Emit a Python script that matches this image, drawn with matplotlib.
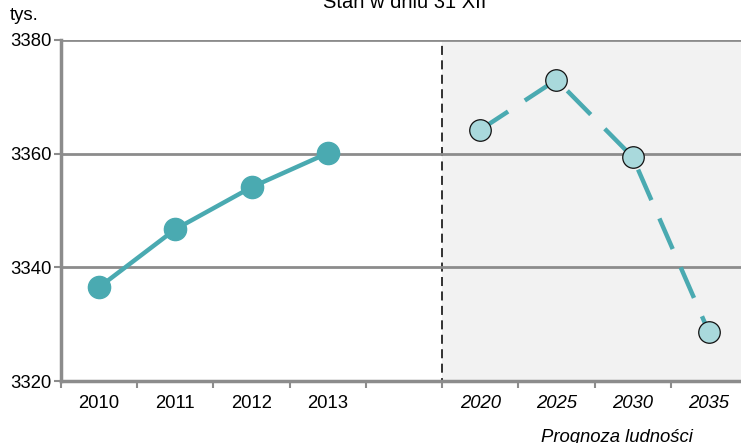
import matplotlib.pyplot as plt
from matplotlib.patches import Rectangle

plt.rcParams['font.family'] = ['Liberation Sans', 'DejaVu Sans']

# data (thousands of people, as of 31 Dec)
years_hist = ["2010", "2011", "2012", "2013"]
pop_hist = [3336.5, 3346.7, 3354.1, 3360.1]
years_fore = ["2020", "2025", "2030", "2035"]
pop_fore = [3364.2, 3373.0, 3359.4, 3328.6]
y_ticks = [3320, 3340, 3360, 3380]

teal = "#4aaab1"
grid_grey = "#8c8c8c"
fs = 13.3

fig = plt.figure(figsize=(7.41, 4.43), dpi=100)
ax = fig.add_axes([61 / 741, 1 - 381 / 443, 686 / 741, 341 / 443])

x_hist = list(range(len(years_hist)))
x_fore = [len(years_hist) + 1 + i for i in range(len(years_fore))]
n_cat = len(years_hist) + 1 + len(years_fore)

# shaded forecast area
ax.add_patch(Rectangle((len(years_hist) + 0.5, y_ticks[0]), n_cat, y_ticks[-1] - y_ticks[0],
                       facecolor="#f2f2f2", edgecolor="#222222", linestyle=(0, (5, 3)),
                       linewidth=1.3, zorder=0))

ax.plot(x_hist, pop_hist, color=teal, linewidth=3.2, marker="o", markersize=16,
        markerfacecolor=teal, markeredgecolor=teal, zorder=3)
ax.plot(x_fore, pop_fore, color=teal, linewidth=3.2, dashes=(7.5, 4.5), zorder=3)
ax.plot(x_fore, pop_fore, linestyle="none", marker="o", markersize=15.5,
        markerfacecolor="#a9d9dc", markeredgecolor="#111111", markeredgewidth=0.9, zorder=4)

ax.set_xlim(-0.5, n_cat - 0.5)
ax.set_ylim(y_ticks[0], y_ticks[-1])
ax.set_yticks(y_ticks)
ax.yaxis.grid(True, color=grid_grey, linewidth=2)
for g in ax.get_ygridlines():
    g.set_zorder(1)

ax.set_xticks(x_hist + x_fore)
ax.set_xticklabels(years_hist + years_fore)
for lbl in ax.get_xticklabels()[len(years_hist):]:
    lbl.set_style("italic")
ax.set_xticks([i + 0.5 for i in range(-1, n_cat)], minor=True)
ax.tick_params(axis="x", which="major", length=0, pad=10, labelsize=fs)
ax.tick_params(axis="x", which="minor", length=5, width=1.5, color=grid_grey, direction="out")
ax.tick_params(axis="y", length=5, width=1.5, color=grid_grey, labelsize=fs, pad=2)

for s in ["top", "right"]:
    ax.spines[s].set_visible(False)
for s in ["left", "bottom"]:
    ax.spines[s].set_color(grid_grey)
    ax.spines[s].set_linewidth(2.5)

fig.text(10 / 741, 1 - 16 / 443, "tys.", fontsize=fs, va="center", ha="left")
fig.text(405 / 741, 1 - 2 / 443, "Stan w dniu 31 XII", fontsize=14.5, va="center", ha="center")
fig.text(617 / 741, 1 - 437 / 443, "Prognoza ludności", fontsize=fs, va="center",
         ha="center", style="italic")

fig.savefig("out.png", dpi=100)
